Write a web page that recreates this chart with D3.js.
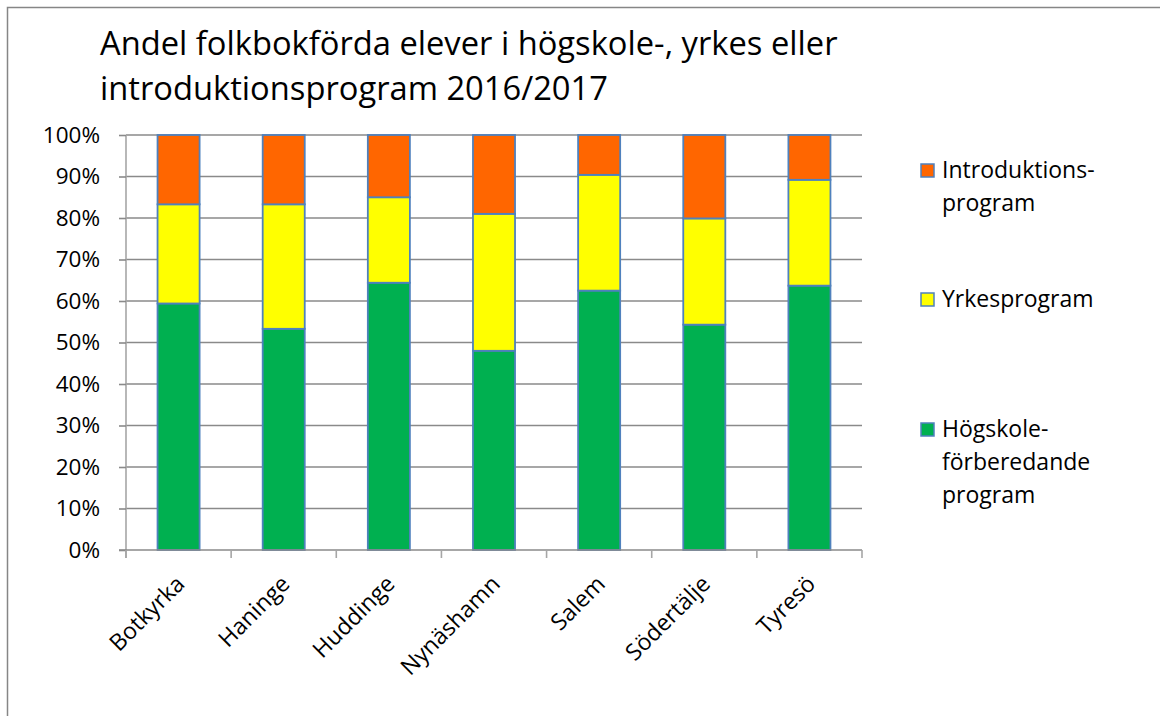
<!DOCTYPE html>
<html><head><meta charset="utf-8">
<script src="https://cdn.jsdelivr.net/npm/d3@7"></script>
<style>
body{margin:0;background:#fff;}
svg{display:block;font-family:"Open Sans",sans-serif;}
</style></head><body>
<svg id="c" width="1160" height="716"></svg>
<script>
const categories = ["Botkyrka","Haninge","Huddinge","Nynäshamn","Salem","Södertälje","Tyresö"];
const hogskole = [59.4,53.3,64.4,48.0,62.5,54.3,63.7];
const yrkes = [23.9,30.0,20.6,33.0,27.9,25.6,25.5];
const intro = [16.7,16.7,15.0,19.0,9.6,20.1,10.8];
const seriesNames = ["Högskoleförberedande program","Yrkesprogram","Introduktionsprogram"];
const legendLines = [["Introduktions-","program"],["Yrkesprogram"],["Högskole-","förberedande","program"]];
const colors = ["#00b050","#ffff00","#ff6600"];
const yTicks = [0,10,20,30,40,50,60,70,80,90,100];
const titleLines = ["Andel folkbokförda elever i högskole-, yrkes eller","introduktionsprogram 2016/2017"];

const svg = d3.select("#c");
svg.append("rect").attr("x",7.5).attr("y",7.5).attr("width",1170).attr("height",720)
  .attr("fill","#fff").attr("stroke","#868686").attr("stroke-width",1.5);

const L=126, R=862, T=135, B=550;
const x = d3.scaleBand().domain(categories).range([L,R]).paddingInner(0.6).paddingOuter(0.3);
const xb = d3.scaleBand().domain(categories).range([L,R]);
const y = d3.scaleLinear().domain([0,100]).range([B,T]);

svg.append("g").selectAll("line").data(yTicks.filter(d=>d>0)).join("line")
  .attr("x1",L).attr("x2",R).attr("y1",d=>y(d)).attr("y2",d=>y(d))
  .attr("stroke","#8a8a8a").attr("stroke-width",1.6);

const ya = svg.append("g").attr("transform",`translate(${L},0)`)
  .call(d3.axisLeft(y).tickValues(yTicks).tickFormat(d=>d+"%").tickSize(7).tickPadding(19));
ya.select(".domain").attr("stroke","#a6a6a6").attr("stroke-width",1.6).attr("d",`M-0,${T}V${B+8}`);
ya.selectAll(".tick line").attr("stroke","#8a8a8a").attr("stroke-width",1.6);
ya.selectAll(".tick text").attr("font-size",22.5).attr("fill","#000").attr("font-family","Open Sans");

const rows = categories.map((c,i)=>({cat:c, s0:hogskole[i], s1:yrkes[i], s2:intro[i]}));
const stack = d3.stack().keys(["s0","s1","s2"])(rows);
svg.append("g").selectAll("g").data(stack).join("g")
  .attr("fill",(d,i)=>colors[i])
  .selectAll("rect").data(d=>d).join("rect")
  .attr("x",d=>x(d.data.cat)).attr("width",x.bandwidth())
  .attr("y",d=>y(d[1])).attr("height",d=>y(d[0])-y(d[1]))
  .attr("stroke","#4f81bd").attr("stroke-width",1.8);

const xa = svg.append("g").attr("transform",`translate(0,${B})`);
xa.append("line").attr("x1",L-7).attr("x2",R).attr("stroke","#8a8a8a").attr("stroke-width",1.6);
const bounds = categories.map(c=>xb(c)).concat([R]);
xa.selectAll(".tk").data(bounds).join("line").attr("class","tk")
  .attr("x1",d=>d).attr("x2",d=>d).attr("y1",0).attr("y2",8)
  .attr("stroke","#a6a6a6").attr("stroke-width",1.6);
xa.selectAll("text").data(categories).join("text")
  .attr("transform",d=>`translate(${xb(d)+xb.bandwidth()/2-4},${24}) rotate(-45)`)
  .attr("text-anchor","end").attr("dy","0.7em")
  .attr("font-size",23).attr("fill","#000").text(d=>d);

svg.append("text").attr("x",100).attr("y",55).attr("font-size",32.7).attr("fill","#000")
  .selectAll("tspan").data(titleLines).join("tspan")
  .attr("x",100).attr("dy",(d,i)=>i?45:0).text(d=>d);

const legY = [164,293,423];
const lg = svg.append("g");
legendLines.forEach((lines,i)=>{
  const si = 2-i;
  lg.append("rect").attr("x",921).attr("y",legY[i]).attr("width",13).attr("height",13)
    .attr("fill",colors[si]).attr("stroke","#4f81bd").attr("stroke-width",1.5);
  lg.append("text").attr("x",942).attr("y",legY[i]+14).attr("font-size",23).attr("fill","#000")
    .selectAll("tspan").data(lines).join("tspan").attr("x",942).attr("dy",(d,j)=>j?33:0).text(d=>d);
});
</script></body></html>
